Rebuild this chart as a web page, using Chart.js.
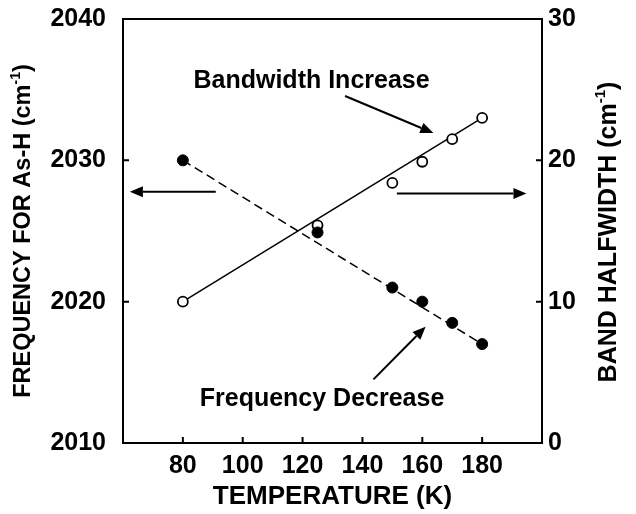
<!DOCTYPE html>
<html>
<head>
<meta charset="utf-8">
<script src="https://cdn.jsdelivr.net/npm/chart.js@4/dist/chart.umd.min.js"></script>
<style>
  html, body { margin: 0; padding: 0; background: #fff; }
  #wrap { width: 636px; height: 514px; }
</style>
</head>
<body>
<div id="wrap"><canvas id="asChart" width="636" height="514"></canvas></div>
<script>
const temps = [80, 125, 150, 160, 170, 180];
const frequency = [2030, 2024.9, 2021, 2020, 2018.5, 2017];   // left axis, filled
const halfwidth = [10, 15.4, 18.4, 19.9, 21.5, 23];          // right axis, open

// straight fit lines, end points
const fitTemps = [80, 180];
const freqFit = [2030, 2017];
const widthFit = [10, 23];

const xTicks = [80, 100, 120, 140, 160, 180];
const FONT = '"Liberation Sans", Arial, Helvetica, sans-serif';

const pts = (xs, ys) => xs.map((x, i) => ({ x: x, y: ys[i] }));

// annotation arrows in data units (x, left-axis y)
const arrows = [
  { from: [91.0, 2027.78], to: [62.3, 2027.78] },
  { from: [151.5, 2027.66], to: [194.8, 2027.66] },
  { from: [134.2, 2034.55], to: [163.7, 2031.93] },
  { from: [143.7, 2014.5], to: [161.1, 2018.23] }
];
const notes = [
  { text: 'Bandwidth Increase', at: [123.0, 2035.6] },
  { text: 'Frequency Decrease', at: [126.5, 2013.1] }
];

function drawRich(ctx, x, y, rot, parts, size) {
  ctx.save();
  ctx.translate(x, y);
  ctx.rotate(rot);
  ctx.textBaseline = 'middle';
  ctx.textAlign = 'left';
  let total = 0;
  parts.forEach(p => {
    ctx.font = 'bold ' + (p.sup ? size * 0.6 : size) + 'px ' + FONT;
    p.w = ctx.measureText(p.t).width;
    total += p.w;
  });
  let cx = -total / 2;
  parts.forEach(p => {
    ctx.font = 'bold ' + (p.sup ? size * 0.6 : size) + 'px ' + FONT;
    ctx.fillText(p.t, cx, p.sup ? -size * 0.33 : 0);
    cx += p.w;
  });
  ctx.restore();
}

function arrow(ctx, x1, y1, x2, y2) {
  const a = Math.atan2(y2 - y1, x2 - x1);
  const len = 13, half = 5.5;
  ctx.beginPath();
  ctx.moveTo(x1, y1);
  ctx.lineTo(x2 - len * Math.cos(a), y2 - len * Math.sin(a));
  ctx.lineWidth = 2;
  ctx.stroke();
  ctx.beginPath();
  ctx.moveTo(x2, y2);
  ctx.lineTo(x2 - len * Math.cos(a) + half * Math.sin(a), y2 - len * Math.sin(a) - half * Math.cos(a));
  ctx.lineTo(x2 - len * Math.cos(a) - half * Math.sin(a), y2 - len * Math.sin(a) + half * Math.cos(a));
  ctx.closePath();
  ctx.fill();
}

const framePlugin = {
  id: 'frame',
  afterDraw(chart) {
    const { ctx, chartArea: ca, scales } = chart;
    ctx.save();
    ctx.strokeStyle = '#000';
    ctx.fillStyle = '#000';
    ctx.lineWidth = 2;
    ctx.strokeRect(ca.left, ca.top, ca.right - ca.left, ca.bottom - ca.top);

    // inward tick marks
    const tl = 6;
    ctx.beginPath();
    scales.x.ticks.forEach(t => {
      const px = scales.x.getPixelForValue(t.value);
      ctx.moveTo(px, ca.bottom);
      ctx.lineTo(px, ca.bottom - tl);
    });
    scales.y.ticks.forEach(t => {
      const py = scales.y.getPixelForValue(t.value);
      ctx.moveTo(ca.left, py);
      ctx.lineTo(ca.left + tl, py);
    });
    scales.y2.ticks.forEach(t => {
      const py = scales.y2.getPixelForValue(t.value);
      ctx.moveTo(ca.right, py);
      ctx.lineTo(ca.right - tl, py);
    });
    ctx.stroke();

    // arrows
    arrows.forEach(a => {
      arrow(ctx,
        scales.x.getPixelForValue(a.from[0]), scales.y.getPixelForValue(a.from[1]),
        scales.x.getPixelForValue(a.to[0]), scales.y.getPixelForValue(a.to[1]));
    });

    // notes
    notes.forEach(n => {
      drawRich(ctx, scales.x.getPixelForValue(n.at[0]), scales.y.getPixelForValue(n.at[1]), 0,
        [{ t: n.text }], 25);
    });

    // axis titles
    drawRich(ctx, 24, 231, -Math.PI / 2,
      [{ t: 'FREQUENCY FOR As-H (cm' }, { t: '-1', sup: true }, { t: ')' }], 23.5);
    drawRich(ctx, 609, 232, -Math.PI / 2,
      [{ t: 'BAND HALFWIDTH (cm' }, { t: '-1', sup: true }, { t: ')' }], 25);
    drawRich(ctx, (ca.left + ca.right) / 2, 497, 0, [{ t: 'TEMPERATURE (K)' }], 26);
    ctx.restore();
  }
};

const tickFont = { family: FONT, size: 25, weight: 'bold' };
const plain = v => String(v);
const noPad = s => { s.paddingTop = 0; s.paddingBottom = 0; s.paddingLeft = 0; s.paddingRight = 0; };

new Chart(document.getElementById('asChart'), {
  type: 'scatter',
  data: {
    datasets: [
      {
        label: 'Frequency fit',
        data: pts(fitTemps, freqFit),
        yAxisID: 'y',
        showLine: true,
        borderColor: '#000',
        borderWidth: 1.5,
        borderDash: [9, 5],
        pointRadius: 0,
        order: 3
      },
      {
        label: 'Bandwidth fit',
        data: pts(fitTemps, widthFit),
        yAxisID: 'y2',
        showLine: true,
        borderColor: '#000',
        borderWidth: 1.5,
        pointRadius: 0,
        order: 3
      },
      {
        label: 'Frequency',
        data: pts(temps, frequency),
        yAxisID: 'y',
        pointRadius: 5.5,
        pointBackgroundColor: '#000',
        pointBorderColor: '#000',
        pointBorderWidth: 1,
        order: 1
      },
      {
        label: 'Halfwidth',
        data: pts(temps, halfwidth),
        yAxisID: 'y2',
        pointRadius: 5,
        pointBackgroundColor: '#fff',
        pointBorderColor: '#000',
        pointBorderWidth: 1.8,
        order: 2
      }
    ]
  },
  options: {
    responsive: false,
    animation: false,
    layout: { padding: { top: 19, left: 0, right: 0, bottom: 0 } },
    plugins: { legend: { display: false }, tooltip: { enabled: false } },
    scales: {
      x: {
        type: 'linear',
        min: 60,
        max: 200,
        afterBuildTicks: s => { s.ticks = xTicks.map(v => ({ value: v })); },
        afterFit: s => { s.height = 71; noPad(s); },
        grid: { display: false, drawTicks: false },
        border: { display: false },
        ticks: { color: '#000', font: tickFont, padding: 8, maxRotation: 0, callback: plain }
      },
      y: {
        position: 'left',
        min: 2010,
        max: 2040,
        afterFit: s => { s.width = 123; noPad(s); },
        grid: { display: false, drawTicks: false },
        border: { display: false },
        ticks: { color: '#000', font: tickFont, stepSize: 10, padding: 17, callback: plain }
      },
      y2: {
        position: 'right',
        min: 0,
        max: 30,
        afterFit: s => { s.width = 94; noPad(s); },
        grid: { display: false, drawTicks: false },
        border: { display: false },
        ticks: { color: '#000', font: tickFont, stepSize: 10, padding: 6, callback: plain }
      }
    }
  },
  plugins: [framePlugin]
});
</script>
</body>
</html>
